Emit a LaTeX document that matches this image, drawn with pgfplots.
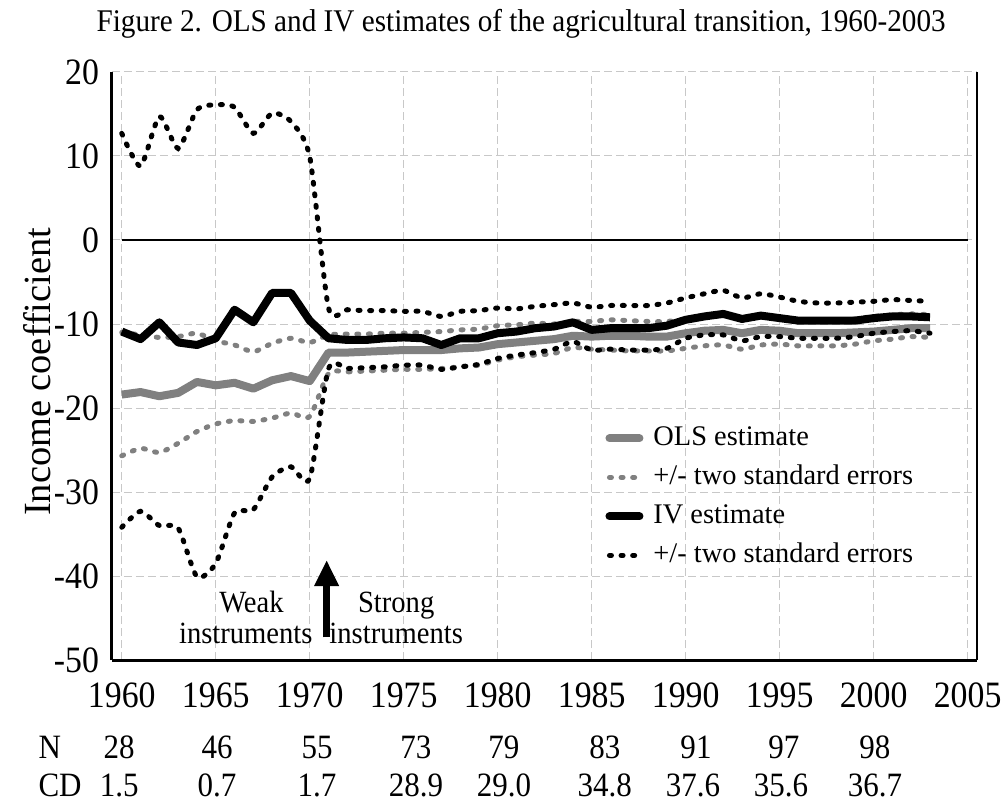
\documentclass[border=0pt]{standalone}
\usepackage{fontspec}
\setmainfont{Liberation Serif}
\usepackage{pgfplots}
\usepackage{pgfplotstable}
\pgfplotsset{compat=1.18}
\usetikzlibrary{arrows.meta}
\definecolor{olsgray}{HTML}{808080}
\definecolor{gridgray}{HTML}{C8C8C8}

\pgfplotstableread{
year ivu iv olsu ols ivl olsl
1960 12.7 -10.9 -11.0 -18.4 -34.2 -25.7
1961 8.8 -11.8 -11.3 -18.1 -32.3 -24.8
1962 14.7 -9.8 -11.6 -18.6 -34.0 -25.3
1963 10.9 -12.2 -11.5 -18.2 -34.3 -24.2
1964 15.5 -12.5 -11.1 -16.9 -40.1 -22.8
1965 16.1 -11.7 -12.0 -17.3 -38.5 -21.9
1966 15.8 -8.3 -12.5 -17.0 -32.5 -21.5
1967 12.7 -9.8 -13.3 -17.7 -32.1 -21.6
1968 15.1 -6.3 -12.3 -16.7 -28.2 -21.2
1969 14.1 -6.3 -11.7 -16.2 -27.0 -20.6
1970 9.9 -9.6 -12.2 -16.8 -28.4 -21.0
1971 -8.1 -11.7 -11.3 -13.4 -15.3 -15.9
1972 -8.3 -11.9 -11.2 -13.4 -15.3 -15.7
1973 -8.4 -11.9 -11.2 -13.3 -15.2 -15.6
1974 -8.4 -11.7 -11.1 -13.2 -15.1 -15.5
1975 -8.5 -11.6 -11.1 -13.1 -14.9 -15.4
1976 -8.5 -11.7 -11.0 -13.1 -14.9 -15.4
1977 -9.1 -12.5 -10.9 -13.1 -15.4 -15.3
1978 -8.5 -11.7 -10.7 -12.9 -15.1 -15.1
1979 -8.4 -11.7 -10.6 -12.8 -14.8 -14.9
1980 -8.1 -11.1 -10.2 -12.4 -14.1 -14.3
1981 -8.2 -10.9 -10.1 -12.2 -13.7 -13.9
1982 -7.9 -10.5 -9.9 -12.0 -13.4 -13.7
1983 -7.7 -10.3 -10.0 -11.8 -13.0 -13.5
1984 -7.5 -9.8 -9.7 -11.4 -12.1 -12.8
1985 -8.0 -10.7 -9.7 -11.5 -13.1 -13.0
1986 -7.8 -10.5 -9.5 -11.4 -13.0 -13.1
1987 -7.8 -10.5 -9.6 -11.4 -13.1 -13.2
1988 -7.8 -10.5 -9.7 -11.5 -13.1 -13.2
1989 -7.5 -10.2 -9.7 -11.5 -12.9 -13.2
1990 -6.9 -9.5 -9.4 -11.1 -11.7 -12.9
1991 -6.4 -9.1 -9.1 -10.8 -11.3 -12.6
1992 -6.0 -8.8 -8.9 -10.7 -11.3 -12.5
1993 -6.9 -9.4 -9.3 -11.1 -12.0 -13.0
1994 -6.4 -9.0 -9.0 -10.7 -11.5 -12.5
1995 -6.8 -9.3 -9.2 -10.8 -11.5 -12.4
1996 -7.3 -9.6 -9.5 -11.1 -11.7 -12.6
1997 -7.5 -9.6 -9.5 -11.1 -11.7 -12.6
1998 -7.5 -9.6 -9.5 -11.1 -11.7 -12.6
1999 -7.4 -9.6 -9.4 -11.0 -11.5 -12.4
2000 -7.3 -9.3 -9.1 -10.9 -11.1 -12.0
2001 -7.1 -9.1 -8.9 -10.7 -10.9 -11.8
2002 -7.2 -9.1 -8.8 -10.5 -10.8 -11.5
2003 -7.3 -9.2 -8.9 -10.5 -11.1 -11.6
}\data

\pgfplotstableread{
xn n xc cd
1959.86 28 1959.86 1.5
1965.07 46 1965.07 0.7
1970.39 55 1970.39 1.7
1975.65 73 1975.65 28.9
1980.33 79 1980.33 29.0
1985.70 83 1985.70 34.8
1990.55 91 1990.39 37.6
1995.23 97 1995.07 35.6
2000.07 98 2000.07 36.7
}\bottomtab

\tikzset{
  olsline/.style={color=olsgray, line width=4pt, line join=round},
  ivline/.style={color=black, line width=4pt, line join=round},
  olsdot/.style={color=olsgray, line width=2.5pt, line cap=round, dash pattern=on 1pt off 4.8pt},
  ivdot/.style={color=black, line width=2.5pt, line cap=round, dash pattern=on 1pt off 4.8pt},
  rowfont/.style={font=\fontsize{15.5}{17}\selectfont, yscale=1.1, inner sep=0pt},
  annfont/.style={font=\fontsize{14.3}{15}\selectfont, yscale=1.08},
}

\begin{document}
\begin{tikzpicture}
\path[use as bounding box] (-56pt,-71.5pt) rectangle (446.5pt,330pt);
\begin{axis}[
  scale only axis,
  width=432.5pt, height=294pt,
  xmin=1959.48, xmax=2005.5,
  ymin=-50, ymax=20,
  clip=false,
  axis x line*=bottom,
  axis y line*=left,
  axis line style={line width=1.5pt, black},
  xtick={1960,1965,1970,1975,1980,1985,1990,1995,2000,2005},
  xticklabels={1960,1965,1970,1975,1980,1985,1990,1995,2000,2005},
  ytick={-50,-40,-30,-20,-10,0,10,20},
  yticklabels={-50,-40,-30,-20,-10,0,10,20},
  major tick length=0pt,
  tick label style={font=\fontsize{16.9}{18}\selectfont, yscale=1.1},
  xticklabel style={yshift=-7pt},
  yticklabel style={xshift=-3pt},
  grid=major,
  major grid style={color=gridgray, line width=0.5pt, dash pattern=on 4pt off 2pt},
  ylabel={Income coefficient},
  ylabel style={at={(axis description cs:-0.086,0.49)}, anchor=center, font=\fontsize{19.2}{21}\selectfont},
  title={Figure 2. OLS and IV estimates of the agricultural transition, 1960-2003},
  title style={at={(axis description cs:0.473,1.049)}, anchor=base, font=\fontsize{14.6}{16}\selectfont, yscale=1.08},
  legend style={at={(axis description cs:0.570,0.3997)}, anchor=north west, draw=none, fill=none,
    font=\fontsize{14.2}{15}\selectfont, inner sep=0pt, row sep=6.5pt,
    nodes={inner sep=0pt, text height=10pt, text depth=3pt}},
  legend cell align=left,
  legend image code/.code={\draw[#1] (2pt,0pt) -- (17pt,0pt); \path[draw=none, fill=none] (0pt,0pt) -- (24pt,0pt);},
]
% zero line
\addplot[black, line width=1.3pt, forget plot] coordinates {(1960,0) (2005,0)};
% OLS
\addplot[olsdot, smooth, tension=0.4, forget plot] table[x=year,y=olsu] {\data};
\addplot[olsdot, smooth, tension=0.4, forget plot] table[x=year,y=olsl] {\data};
\addplot[olsline, forget plot] table[x=year,y=ols] {\data};
% IV
\addplot[ivdot, smooth, tension=0.4, forget plot] table[x=year,y=ivu] {\data};
\addplot[ivdot, smooth, tension=0.4, forget plot] table[x=year,y=ivl] {\data};
\addplot[ivline, forget plot] table[x=year,y=iv] {\data};

\addlegendimage{olsline, line cap=round}
\addlegendentry{OLS estimate}
\addlegendimage{olsdot}
\addlegendentry{+/- two standard errors}
\addlegendimage{ivline, line cap=round}
\addlegendentry{IV estimate}
\addlegendimage{ivdot}
\addlegendentry{+/- two standard errors}

% right border
\draw[black, line width=0.75pt] (rel axis cs:1,0) -- (rel axis cs:1,1);

% arrow and annotation
\draw[line width=3.5pt, -{Triangle[width=11.5pt,length=13pt]}] (axis cs:1970.9,-47.3) -- (axis cs:1970.9,-38.1);
\node[anchor=base, annfont] at (axis cs:1966.9,-44.4) {Weak};
\node[anchor=base, annfont] at (axis cs:1966.6,-48.0) {instruments};
\node[anchor=base, annfont] at (axis cs:1974.6,-44.4) {Strong};
\node[anchor=base, annfont] at (axis cs:1974.6,-48.0) {instruments};

% bottom rows
\node[anchor=base west, rowfont] at (axis cs:1955.55,-61.67) {N};
\node[anchor=base west, rowfont] at (axis cs:1955.55,-66.3) {CD};
\pgfplotsinvokeforeach{0,...,8}{
  \pgfplotstablegetelem{#1}{xn}\of\bottomtab \edef\bxn{\pgfplotsretval}
  \pgfplotstablegetelem{#1}{n}\of\bottomtab \edef\bn{\pgfplotsretval}
  \pgfplotstablegetelem{#1}{xc}\of\bottomtab \edef\bxc{\pgfplotsretval}
  \pgfplotstablegetelem{#1}{cd}\of\bottomtab \edef\bcd{\pgfplotsretval}
  \edef\temp{\noexpand\node[anchor=base, rowfont] at (axis cs:\bxn,-61.67) {\bn};
    \noexpand\node[anchor=base, rowfont] at (axis cs:\bxc,-66.3) {\bcd};}
  \temp
}
\end{axis}
\end{tikzpicture}
\end{document}
